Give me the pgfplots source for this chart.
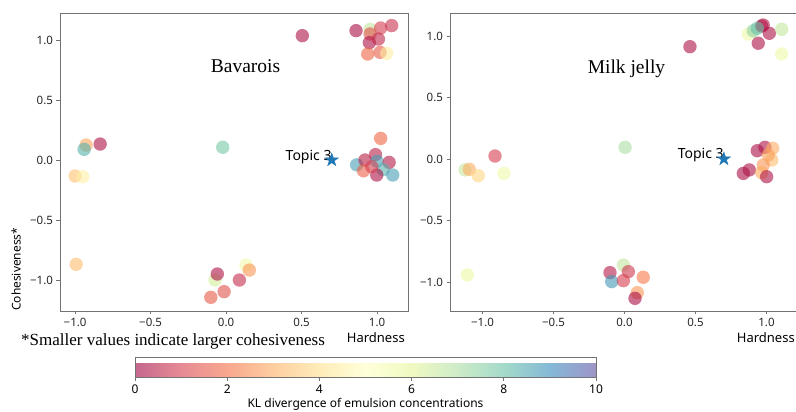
\documentclass[border=0pt]{standalone}
\usepackage{fontspec}
\setmainfont{Liberation Serif}
\setsansfont{Noto Sans}
\usepackage{pgfplots}
\pgfplotsset{compat=1.18}
\usepackage{pgfplotstable}

\definecolor{spine}{gray}{0.45}
\definecolor{starblue}{HTML}{1F77B4}

\pgfplotsset{
  colormap={spectral}{rgb255=(158,1,66) rgb255=(213,62,79) rgb255=(244,109,67) rgb255=(253,174,97) rgb255=(254,224,139) rgb255=(255,255,191) rgb255=(230,245,152) rgb255=(171,221,164) rgb255=(102,194,165) rgb255=(50,136,189) rgb255=(94,79,162)},
  colormap={spectralA}{rgb255=(197,103,142) rgb255=(230,139,149) rgb255=(248,167,142) rgb255=(254,206,160) rgb255=(254,236,185) rgb255=(255,255,217) rgb255=(240,249,193) rgb255=(205,235,200) rgb255=(163,218,201) rgb255=(132,184,215) rgb255=(158,149,199)},
}

\pgfdeclareplotmark{fstar}{%
  \pgfpathmoveto{\pgfpointpolar{90}{\pgfplotmarksize}}%
  \pgfpathlineto{\pgfpointpolar{126}{0.382\pgfplotmarksize}}%
  \pgfpathlineto{\pgfpointpolar{162}{\pgfplotmarksize}}%
  \pgfpathlineto{\pgfpointpolar{198}{0.382\pgfplotmarksize}}%
  \pgfpathlineto{\pgfpointpolar{234}{\pgfplotmarksize}}%
  \pgfpathlineto{\pgfpointpolar{270}{0.382\pgfplotmarksize}}%
  \pgfpathlineto{\pgfpointpolar{306}{\pgfplotmarksize}}%
  \pgfpathlineto{\pgfpointpolar{342}{0.382\pgfplotmarksize}}%
  \pgfpathlineto{\pgfpointpolar{18}{\pgfplotmarksize}}%
  \pgfpathlineto{\pgfpointpolar{54}{0.382\pgfplotmarksize}}%
  \pgfpathclose
  \pgfusepathqfillstroke
}

\pgfplotstableread{
x y c
0.505 1.036 0.3
0.861 1.078 0.2
0.954 1.089 6.6
1.024 1.100 1.0
1.097 1.120 0.8
0.954 1.050 1.4
0.949 0.978 0.3
1.009 1.008 0.6
0.938 0.883 1.8
1.020 0.897 1.6
1.064 0.889 4.4
-0.834 0.133 0.3
-0.927 0.125 2.9
-0.940 0.089 8.3
-1.000 -0.133 3.4
-0.949 -0.139 4.5
-0.022 0.106 7.8
1.024 0.180 1.8
0.865 -0.040 8.6
0.920 0.000 0.5
0.910 -0.090 1.7
0.990 0.045 0.5
1.000 -0.010 8.6
1.080 -0.020 0.4
1.040 -0.080 8.3
0.998 -0.125 0.3
1.104 -0.125 8.6
0.965 -0.056 1.0
-0.993 -0.869 3.3
-0.073 -1.000 6.3
-0.058 -0.950 0.3
-0.013 -1.097 1.4
-0.101 -1.144 1.6
0.088 -1.000 0.7
0.132 -0.875 5.5
0.154 -0.917 2.6
}\bavdata

\pgfplotstableread{
x y c
0.461 0.913 0.3
0.872 1.016 5.6
0.907 1.043 7.4
0.966 1.081 0.2
0.977 1.089 0.4
1.020 1.022 0.3
0.935 1.063 8.0
1.107 1.054 6.6
0.942 0.941 0.3
1.107 0.854 5.6
-0.912 0.024 1.0
-1.123 -0.089 6.6
-1.093 -0.084 3.0
-1.030 -0.136 3.8
-0.849 -0.117 5.6
0.004 0.095 7.0
0.935 0.067 0.2
0.989 0.095 0.3
1.044 0.087 3.0
1.037 -0.008 3.3
0.977 -0.049 2.6
0.837 -0.117 0.2
0.879 -0.089 0.3
0.966 -0.111 3.0
1.001 -0.144 0.3
1.013 0.033 2.8
-0.008 -0.862 6.6
-0.102 -0.924 0.4
0.027 -0.916 0.9
-0.090 -0.997 8.7
-0.008 -0.989 1.0
0.132 -0.962 2.2
0.090 -1.087 2.6
0.074 -1.133 0.2
-1.107 -0.943 5.7
}\milkdata

\pgfplotstableread{
x y
0.7 0
}\topicdata

\pgfplotsset{
  panel/.style={
    scale only axis, width=348pt, height=298pt, anchor=south west,
    axis line style={spine, line width=0.8pt},
    tick style={spine, line width=0.8pt}, tick align=outside, major tick length=3.5pt,
    xtick pos=left, ytick pos=left,
    ticklabel style={font=\sffamily\fontsize{11.5}{13}\selectfont, text=black!85},
    xtick={-1,-0.5,0,0.5,1}, xticklabels={−1.0,−0.5,0.0,0.5,1.0},
    ytick={-1,-0.5,0,0.5,1}, yticklabels={−1.0,−0.5,0.0,0.5,1.0},
    point meta min=0, point meta max=10, colormap name=spectral,
  },
  pts/.style={scatter, only marks, mark=*, mark size=6.7pt, scatter src=explicit,
    scatter/use mapped color={draw=mapped color, fill=mapped color, draw opacity=0, fill opacity=0.6}},
  topic/.style={only marks, mark=fstar, mark size=7pt, color=starblue},
}

\begin{document}
\begin{tikzpicture}[x=1pt,y=1pt]
\path[use as bounding box] (0,0) rectangle (796,412);

\begin{axis}[panel, at={(60pt,101pt)}, xmin=-1.10, xmax=1.205, ymin=-1.258, ymax=1.225]
\addplot[pts] table[x=x, y=y, meta=c] {\bavdata};
\addplot[topic] table[x=x, y=y] {\topicdata};
\node[anchor=base east, inner sep=0pt, font=\sffamily\fontsize{14}{15}\selectfont] at (axis cs:0.7,0) {Topic 3};
\end{axis}

\begin{axis}[panel, at={(450pt,101pt)}, xmin=-1.229, xmax=1.222, ymin=-1.236, ymax=1.187]
\addplot[pts] table[x=x, y=y, meta=c] {\milkdata};
\addplot[topic] table[x=x, y=y] {\topicdata};
\node[anchor=base east, inner sep=0pt, font=\sffamily\fontsize{14}{15}\selectfont] at (axis cs:0.7,0) {Topic 3};
\end{axis}

\begin{axis}[at={(135pt,43pt)}, anchor=south west, hide axis, scale only axis,
  width=10pt, height=10pt, xmin=0, xmax=1, ymin=0, ymax=1,
  colormap name=spectralA, colorbar horizontal,
  point meta min=0, point meta max=10,
  colorbar style={at={(parent axis.south west)}, anchor=south west, xshift=0pt, yshift=0pt,
    width=461pt, height=20pt, xtick={0,2,4,6,8,10}, xtick pos=left,
    axis line style={spine, line width=0.6pt},
    tick style={spine, line width=0.8pt}, tick align=outside, major tick length=3.5pt,
    xticklabel style={font=\sffamily\fontsize{12}{13}\selectfont},
    /pgf/number format/assume math mode=true,
    xlabel={KL divergence of emulsion concentrations},
    xlabel style={font=\sffamily\fontsize{12}{13}\selectfont, yshift=1.5pt}}]
\addplot[draw=none] coordinates {(0,0)};
\end{axis}

\node[anchor=base, inner sep=0pt, font=\fontsize{19.5}{21}\selectfont] at (245.5,339.3) {Bavarois};
\node[anchor=base, inner sep=0pt, font=\fontsize{19.5}{21}\selectfont] at (626.5,338.7) {Milk jelly};
\node[rotate=90, anchor=west, inner sep=0pt, font=\sffamily\fontsize{12}{13}\selectfont] at (16,101) {Cohesiveness*};
\node[anchor=base west, inner sep=0pt, font=\sffamily\fontsize{13}{14}\selectfont] at (346.7,69) {Hardness};
\node[anchor=base west, inner sep=0pt, font=\sffamily\fontsize{13}{14}\selectfont] at (736.7,69) {Hardness};
\node[anchor=base west, inner sep=0pt, font=\fontsize{17}{18}\selectfont] at (21,66.3) {*Smaller values indicate larger cohesiveness};
\end{tikzpicture}
\end{document}
